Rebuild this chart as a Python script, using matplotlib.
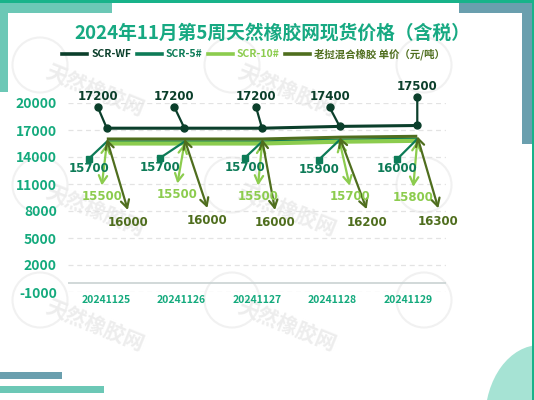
import matplotlib
matplotlib.use("Agg")
import matplotlib.pyplot as plt
import matplotlib.transforms as mtransforms
from matplotlib.patches import Rectangle, Ellipse
import numpy as np

plt.rcParams['font.family'] = ['Noto Sans CJK SC', 'DejaVu Sans']
plt.rcParams['axes.unicode_minus'] = False

dates = ['20241125', '20241126', '20241127', '20241128', '20241129']
scr_wf = [17200, 17200, 17200, 17400, 17500]
scr_5 = [15700, 15700, 15700, 15900, 16000]
scr_10 = [15500, 15500, 15500, 15700, 15800]
laos_mix = [16000, 16000, 16000, 16200, 16300]

names = ['SCR-WF', 'SCR-5#', 'SCR-10#', '老挝混合橡胶 单价（元/吨）']
colors = ['#0b3f2b', '#0d7b57', '#8ccc4e', '#4f6e1e']
widths = [2.2, 2.0, 3.0, 2.2]

# leader end offsets in pixels (dx, dy up) and label gap beyond the end
leaders = [
    dict(ends=[(-9, 21), (-10, 21), (-6, 21), (-10, 19), (0, 28)], gap=11, kind='dot'),
    dict(ends=[(-18, -17), (-24, -16), (-17, -16), (-21, -20), (-20, -20)], gap=-10, kind='square'),
    dict(ends=[(-5, -42), (-7, -40), (-4, -42), (10, -44), (-4, -46)], gap=-11, kind='arrow'),
    dict(ends=[(21, -71), (23, -69), (13, -71), (27, -72), (21, -72)], gap=-13, kind='arrow'),
]

W, H = 534, 400
fig = plt.figure(figsize=(W / 100, H / 100), dpi=100)

# background decoration in pixel coordinates
bg = fig.add_axes([0, 0, 1, 1], zorder=-5)
bg.set_xlim(0, W)
bg.set_ylim(H, 0)
bg.axis('off')
bg.add_patch(Rectangle((0, 2), 112, 90, color='#6cc8b6', lw=0))
bg.add_patch(Rectangle((459, 2), 73, 142, color='#6a9fae', lw=0))
bg.add_patch(Rectangle((8, 13), 514, 390, color='white', lw=0))
bg.add_patch(Ellipse((540, 420), 110, 150, color='#a6e3d4', lw=0))
bg.add_patch(Rectangle((0, 0), W, 2.5, color='#18b38a', lw=0))
bg.add_patch(Rectangle((531.5, 0), 2.5, H, color='#18b38a', lw=0))
bg.add_patch(Rectangle((0, 372), 62, 7, color='#6a9fae', lw=0))
bg.add_patch(Rectangle((0, 386), 104, 7, color='#6cc8b6', lw=0))

# faint watermark
for wx in (40, 232, 424):
    for wy in (95, 215, 330):
        bg.add_patch(Ellipse((wx, wy - 30), 55, 55, fill=False, ec='#f1f1f1', lw=1.5))
        if wx < 400:
            bg.text(wx + 55, wy - 5, '天然橡胶网', color='#ededed', fontsize=15,
                    rotation=-22, ha='center', va='center', fontweight='bold')

ax = fig.add_axes([68 / W, 1 - 292 / H, 378 / W, 189 / H])
ax.patch.set_alpha(0)
x = np.arange(len(dates))
ax.set_xlim(-0.5, 4.37)
ax.set_ylim(-1000, 20000)
ax.set_yticks(np.arange(-1000, 20001, 3000))
ax.tick_params(axis='y', length=0, pad=8, labelsize=10, labelcolor='#14aa7d')
for lab in ax.get_yticklabels():
    lab.set_fontweight('bold')
ax.set_xticks([])
for s in ax.spines.values():
    s.set_visible(False)
ax.grid(axis='y', color='#e3e3e3', ls=(0, (4, 3)), lw=0.9)
ax.axhline(0, color='#c9d2d2', lw=1.2, zorder=1)

# category labels on their own band scale
ax2 = ax.twiny()
ax2.set_xlim(-0.5, 4.5)
ax2.set_xticks(x)
ax2.set_xticklabels(dates, fontsize=7.5, fontweight='bold', color='#14aa7d')
ax2.xaxis.set_ticks_position('bottom')
ax2.tick_params(axis='x', length=0, pad=2)
for s in ax2.spines.values():
    s.set_visible(False)

series = [scr_wf, scr_5, scr_10, laos_mix]
for k in [1, 3, 0, 2]:
    ax.plot(x, series[k], color=colors[k], lw=widths[k], zorder=3 + k * 0.1,
            solid_capstyle='butt')
ax.plot(x, scr_wf, 'o', color=colors[0], ms=5, zorder=4)

for k, vals in enumerate(series):
    spec = leaders[k]
    c = colors[k]
    for i, v in enumerate(vals):
        dx, dy = spec['ends'][i]
        if spec['kind'] == 'arrow':
            ax.annotate('', xy=(i, v), xytext=(dx, dy), textcoords='offset pixels',
                        arrowprops=dict(arrowstyle='<->,head_length=0.55,head_width=0.3',
                                        color=c, lw=1.6, shrinkA=0, shrinkB=0),
                        zorder=6)
        else:
            ax.annotate('', xy=(i, v), xytext=(dx, dy), textcoords='offset pixels',
                        arrowprops=dict(arrowstyle='-', color=c, lw=1.6,
                                        shrinkA=0, shrinkB=0), zorder=6)
            tr = ax.transData + mtransforms.ScaledTranslation(dx / 100, dy / 100,
                                                               fig.dpi_scale_trans)
            ax.plot([i], [v], marker='o' if spec['kind'] == 'dot' else 's',
                    color=c, ms=5 if spec['kind'] == 'dot' else 4.2,
                    transform=tr, zorder=7, clip_on=False)
        ax.annotate(f'{v}', xy=(i, v), xytext=(dx, dy + spec['gap']),
                    textcoords='offset pixels', ha='center', va='center',
                    fontsize=8.5, fontweight='bold', color=c, zorder=8,
                    family='DejaVu Sans')

fig.text(0.51, 1 - 33 / H, '2024年11月第5周天然橡胶网现货价格（含税）', ha='center',
         va='center', fontsize=13.5, fontweight='bold', color='#17a982')

legend_handles = [plt.Line2D([], [], color=colors[k], lw=2.6) for k in range(4)]
leg = fig.legend(legend_handles, names, loc='center', bbox_to_anchor=(0.475, 1 - 54 / H),
                 ncol=4, frameon=False, fontsize=7.5, handlelength=2.4, handletextpad=0.4,
                 columnspacing=0.5, borderpad=0)
for t, c in zip(leg.get_texts(), colors):
    t.set_color(c)
    t.set_fontweight('bold')

fig.savefig('out.png', dpi=100)
